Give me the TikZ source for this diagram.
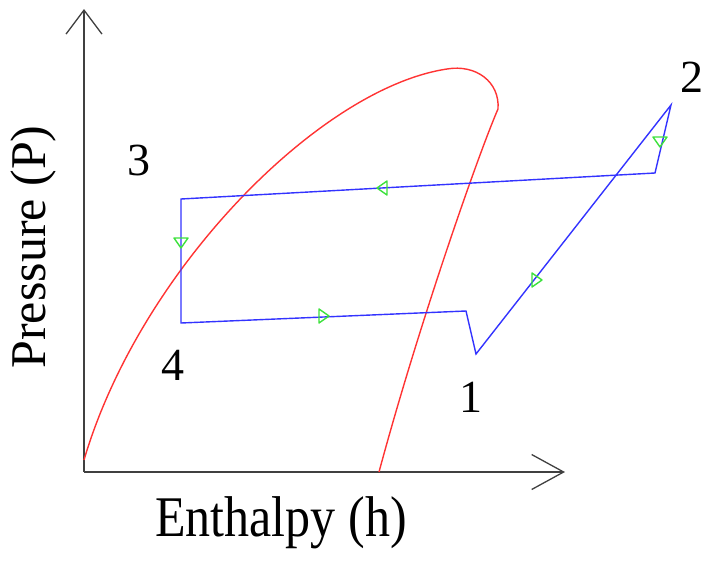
\documentclass[tikz,border=0pt]{standalone}
\usepackage{fontspec}
\setmainfont{Liberation Serif}
\usetikzlibrary{arrows.meta}
\definecolor{flowgreen}{RGB}{60,225,60}
\tikzset{
  axisline/.style={line width=1.3pt, black!75},
  loopline/.style={line width=1.4pt, blue!80!white},
  dome/.style={line width=1.4pt, red!80!white},
  flow/.pic={\draw[line width=1.4pt, flowgreen, line join=round] (-5,-7) -- (5,0) -- (-5,7) -- cycle;},
  state/.style={font=\fontsize{46}{50}\selectfont, inner sep=0pt},
  axlabel/.style={font=\fontsize{50}{54}\selectfont, inner sep=0pt}
}
\begin{document}
\begin{tikzpicture}[x=1pt, y=-1pt]
    \useasboundingbox (0,0) rectangle (707,563);

    % axes
    \coordinate (O) at (84,472);
    \coordinate (ytop) at (84,9);
    \coordinate (xend) at (565,472);
    \draw[axisline, -{Straight Barb[length=24pt, width=36pt]}] (O) -- (ytop);
    \draw[axisline, -{Straight Barb[length=32pt, width=35pt]}] (O) -- (xend);

    % saturation dome
    \coordinate (liq) at (84,460);
    \coordinate (crit) at (447,69);
    \coordinate (knee) at (498,109);
    \coordinate (vap) at (379,472);
    \draw[dome] (liq) .. controls (140,270) and (320,88) .. (crit)
        .. controls (476,64) and (500,82) .. (knee)
        .. controls (480,150) and (420,320) .. (vap);

    % refrigeration cycle
    \coordinate (p3) at (181,199);
    \coordinate (p3b) at (655,173);
    \coordinate (p2) at (671,105);
    \coordinate (p1) at (476,354);
    \coordinate (p1b) at (466,311);
    \coordinate (p4) at (181,323);
    \draw[loopline, line join=miter] (p3) -- (p3b) -- (p2) -- (p1) -- (p1b) -- (p4) -- cycle;

    % flow direction
    \pic[rotate=180] at (382,188) {flow};
    \pic[rotate=-90] at (660,142) {flow};
    \pic at (537,280) {flow};
    \pic at (324,316) {flow};
    \pic[rotate=-90] at (181,243) {flow};

    \node[state] (s2) at (692,77) {2};
    \node[state] (s3) at (139,160) {3};
    \node[state] (s4) at (173,365) {4};
    \node[state] (s1) at (471,397) {1};

    \node[axlabel, rotate=90] (ylab) at (33,247) {Pressure (P)};
    \node[axlabel] (xlab) at (281,523) {\scalebox{1}[1.15]{Enthalpy (h)}};
\end{tikzpicture}
\end{document}
